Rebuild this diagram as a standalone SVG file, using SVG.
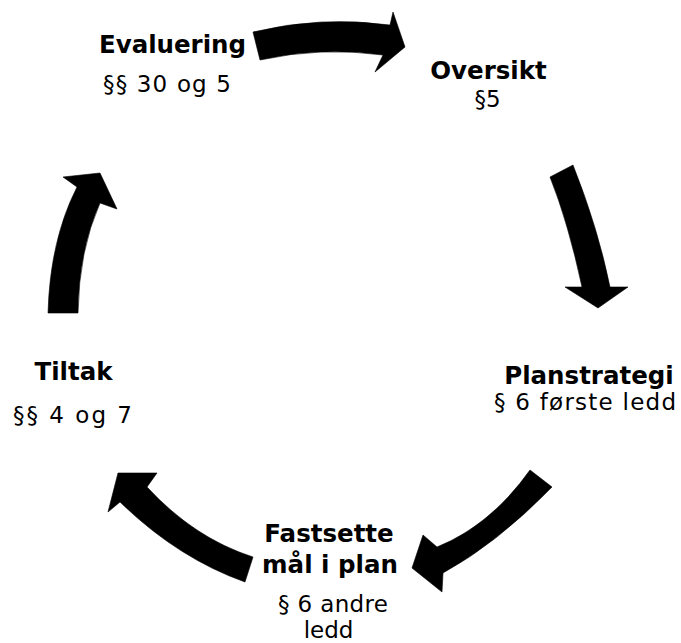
<svg xmlns="http://www.w3.org/2000/svg" width="681" height="643" viewBox="0 0 681 643">
<style>
text{font-family:"DejaVu Sans","Verdana",sans-serif;font-size:23px;fill:#000;text-anchor:middle}
.b{font-weight:bold;font-size:24.5px}
.arrow{fill:#000;stroke:#000;stroke-width:0.6;stroke-linejoin:miter}
</style>
<rect width="681" height="643" fill="#fff"/>
<g id="connectors">
<path class="arrow" d="M253,32 Q321,15.5 390,25 L393,12 L405,47 L375,72 L383,55 Q321,46.5 260,60 Z"/>
<path class="arrow" d="M550,177 L573,165 Q598,228 610,287 L628,287 L598,308 L565,287 L582,287 Q568,222 550,177 Z"/>
<path class="arrow" d="M530,470 Q490.5,525.5 437,547 L423,535 L412,568 L442,592 L443,573 Q496.5,544 552,487 Z"/>
<path class="arrow" d="M253,557 Q194,538 147,487 L157,473 L118,473 L108,512 L120,502 Q177.5,558 245,582 Z"/>
<path class="arrow" d="M48,313 L78,313 Q79,250 100,203 L117,209 L100,173 L63,177 L77,187 Q50,240 48,313 Z"/>
</g>
<g id="evaluering">
<text class="b" x="172.5" y="53">Evaluering</text>
<text x="167" y="92" textLength="128" lengthAdjust="spacing">§§ 30 og 5</text>
</g>
<g id="oversikt">
<text class="b" x="488.5" y="79">Oversikt</text>
<text x="487.5" y="107">§5</text>
</g>
<g id="planstrategi">
<text class="b" x="589" y="384">Planstrategi</text>
<text x="585" y="410" textLength="182" lengthAdjust="spacing">§ 6 første ledd</text>
</g>
<g id="fastsette">
<text class="b" x="329" y="542">Fastsette</text>
<text class="b" x="330" y="573">mål i plan</text>
<text x="333" y="612" textLength="110" lengthAdjust="spacing">§ 6 andre</text>
<text x="328.5" y="638">ledd</text>
</g>
<g id="tiltak">
<text class="b" x="73.5" y="380">Tiltak</text>
<text x="72.5" y="423" textLength="119" lengthAdjust="spacing">§§ 4 og 7</text>
</g>
</svg>
